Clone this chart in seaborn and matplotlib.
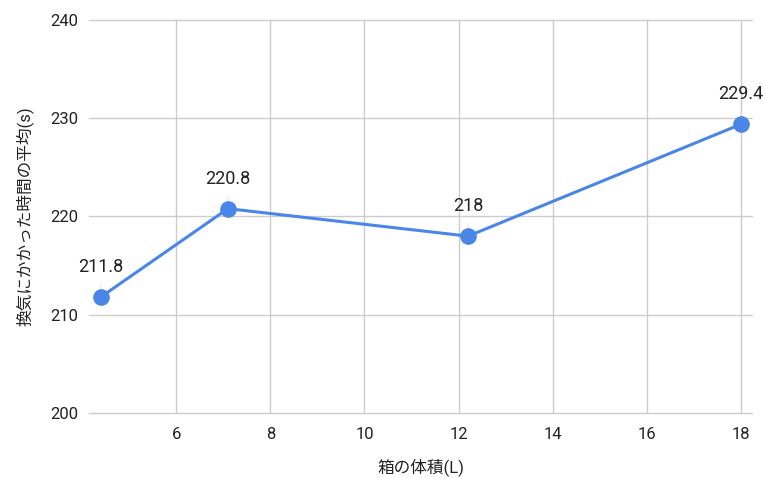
import matplotlib
matplotlib.use("Agg")
import matplotlib.pyplot as plt
import seaborn as sns
import pandas as pd

volumes = [4.4, 7.1, 12.2, 18.0]
avg_times = [211.8, 220.8, 218.0, 229.4]
value_labels = ["211.8", "220.8", "218", "229.4"]
x_ticks = [6, 8, 10, 12, 14, 16, 18]
y_ticks = [200, 210, 220, 230, 240]

sns.set_theme(style="white")
plt.rcParams['font.family'] = ['Roboto', 'Noto Sans CJK JP', 'DejaVu Sans']

df = pd.DataFrame({"vol": volumes, "t": avg_times})

fig = plt.figure(figsize=(7.65, 4.78), dpi=100)
ax = fig.add_axes([89/765, 65/478, (752-89)/765, (413-20)/478])

color = "#4a86e8"
sns.lineplot(data=df, x="vol", y="t", ax=ax, color=color, linewidth=2.2,
             marker="o", markersize=12, markeredgewidth=0, zorder=3)

ax.set_xlim(4.15, 18.23)
ax.set_ylim(200, 240)
ax.set_xticks(x_ticks)
ax.set_yticks(y_ticks)
ax.grid(True, color="#cccccc", linewidth=1)
ax.set_axisbelow(True)
for gl in ax.get_ygridlines() + ax.get_xgridlines():
    gl.set_clip_on(False)
for s in ax.spines.values():
    s.set_visible(False)
ax.tick_params(axis="both", length=0, labelsize=12, colors="#222222")
ax.tick_params(axis="y", pad=8)
ax.tick_params(axis="x", pad=10)

for x, y, lab in zip(volumes, avg_times, value_labels):
    ax.annotate("", xy=(x, y), xytext=(x, y + 1.5),
                arrowprops=dict(arrowstyle="-", color="#dddddd", lw=0.6), zorder=2)
    ax.annotate(lab, xy=(x, y), xytext=(0, 15), textcoords="offset points",
                ha="center", va="bottom", fontsize=13, color="#222222")

ax.set_xlabel("箱の体積(L)", fontsize=12, color="#222222", labelpad=12)
ax.set_ylabel("換気にかかった時間の平均(s)", fontsize=12, color="#222222", labelpad=12)

fig.savefig("out.png", dpi=100)
